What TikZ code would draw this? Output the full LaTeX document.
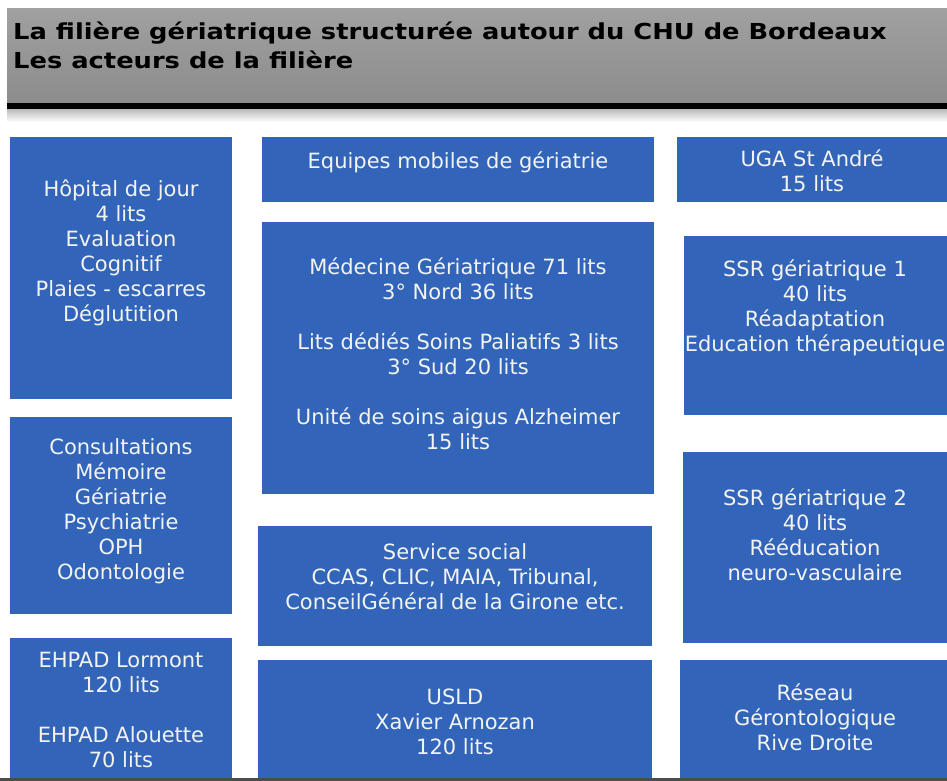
\documentclass[tikz,border=0pt]{standalone}
\usepackage{fontspec}
\setmainfont{DejaVu Sans}
\newfontfamily\ttlfont[FakeStretch=1.17,BoldFeatures={FakeStretch=1.17}]{DejaVu Sans}
\definecolor{boxblue}{RGB}{50,101,186}
\definecolor{txtwhite}{RGB}{243,243,240}
\definecolor{hdrtop}{RGB}{160,160,160}
\definecolor{hdrbot}{RGB}{140,140,140}
\begin{document}
\begin{tikzpicture}[x=1pt,y=-1pt,
  panel/.style={fill=boxblue,draw=none},
  label/.style={text=txtwhite,align=center,font=\fontsize{21}{25}\selectfont,inner sep=0pt},
  ttl/.style={text=black,align=left,font=\ttlfont\bfseries\fontsize{22}{29}\selectfont,inner sep=0pt,anchor=west}]
\useasboundingbox (0,0) rectangle (947,781);
\fill[white] (0,0) rectangle (947,781);
% header
\shade[top color=hdrtop,bottom color=hdrbot] (7,9) rectangle (947,103);
\fill[black] (7,103) rectangle (947,110);
\shade[top color=black!25,bottom color=white] (7,110) rectangle (947,122);
\node[ttl] (title) at (13,45) {La filière gériatrique structurée autour du CHU de Bordeaux\\Les acteurs de la filière};
% column 1
\path[panel] (10,137) rectangle (232,399) node[pos=0.5] (hdjbox) {};
\path[panel] (10,417) rectangle (232,614) node[pos=0.5] (conbox) {};
\path[panel] (10,638) rectangle (232,778) node[pos=0.5] (ehpbox) {};
% column 2
\path[panel] (262,137) rectangle (654,202) node[pos=0.5] (emgbox) {};
\path[panel] (262,222) rectangle (654,494) node[pos=0.5] (medbox) {};
\path[panel] (258,526) rectangle (652,646) node[pos=0.5] (socbox) {};
\path[panel] (258,660) rectangle (652,778) node[pos=0.5] (uslbox) {};
% column 3
\path[panel] (677,137) rectangle (947,202) node[pos=0.5] (ugabox) {};
\path[panel] (684,236) rectangle (947,415) node[pos=0.5] (ssr1box) {};
\path[panel] (683,452) rectangle (947,643) node[pos=0.5] (ssr2box) {};
\path[panel] (680,660) rectangle (947,778) node[pos=0.5] (resbox) {};
% bottom edge
\fill[black!70] (0,778) rectangle (947,781);
% texts
\node[label] (hdj) at (121,253) {Hôpital de jour\\4 lits\\Evaluation\\Cognitif\\Plaies - escarres\\Déglutition};
\node[label] (con) at (121,511.5) {Consultations\\Mémoire\\Gériatrie\\Psychiatrie\\OPH\\Odontologie};
\node[label] (ehp) at (121,709.5) {EHPAD Lormont\\120 lits\\[25pt]EHPAD Alouette\\70 lits};
\node[label] (emg) at (458,162) {Equipes mobiles de gériatrie};
\node[label] (med) at (458,353.5) {Médecine Gériatrique 71 lits\\3° Nord 36 lits\\[25pt]Lits dédiés Soins Paliatifs 3 lits\\3° Sud 20 lits\\[25pt]Unité de soins aigus Alzheimer\\15 lits};
\node[label] (soc) at (455,577) {Service social\\CCAS, CLIC, MAIA, Tribunal,\\ConseilGénéral de la Girone etc.};
\node[label] (usl) at (455,722) {USLD\\Xavier Arnozan\\120 lits};
\node[label] (uga) at (812,171) {UGA St André\\15 lits};
\node[label] (ssr1) at (815,308) {SSR gériatrique 1\\40 lits\\Réadaptation\\Education thérapeutique};
\node[label] (ssr2) at (815,534.5) {SSR gériatrique 2\\40 lits\\Rééducation\\neuro-vasculaire};
\node[label] (res) at (815,717) {Réseau\\Gérontologique\\Rive Droite};
\end{tikzpicture}
\end{document}
